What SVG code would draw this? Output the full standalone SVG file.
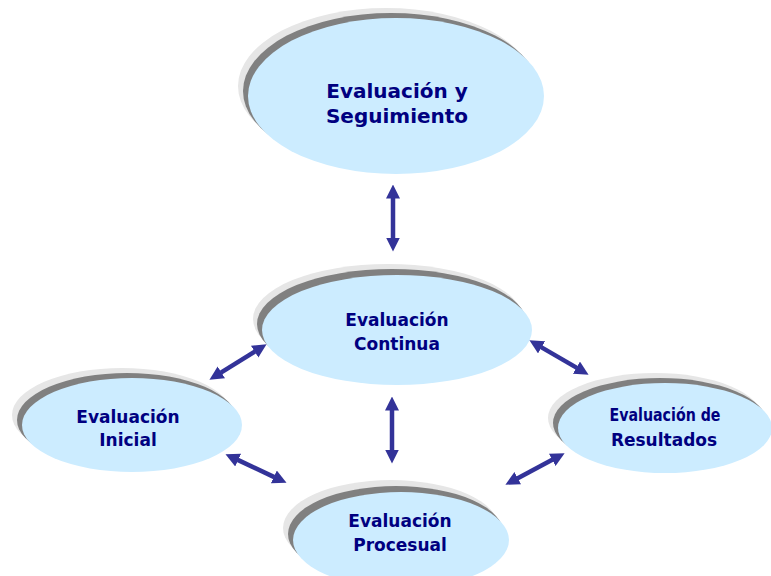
<svg xmlns="http://www.w3.org/2000/svg" width="771" height="576" viewBox="0 0 771 576">
<style>
.sh1{fill:#E6E6E6;}
.sh2{fill:#808080;}
.body{fill:#CCECFF;}
.lbl{font-family:"DejaVu Sans","Liberation Sans",sans-serif;font-weight:bold;fill:#000080;text-anchor:middle;}
.conn{stroke:#333399;stroke-width:4.5;fill:none;marker-start:url(#ah);marker-end:url(#ah);}
</style>
<defs>
<marker id="ah" markerUnits="userSpaceOnUse" viewBox="0 0 14 14" markerWidth="14" markerHeight="14" refX="0.5" refY="7" orient="auto-start-reverse">
<path d="M0,0 L14,7 L0,14 z" fill="#333399"/>
</marker>
</defs>
<rect width="771" height="576" fill="#FFFFFF"/>
<g id="node-seguimiento">
<ellipse class="sh1" cx="386" cy="86" rx="148" ry="78"/>
<ellipse class="sh2" cx="391" cy="91" rx="148" ry="78"/>
<ellipse class="body" cx="396" cy="96" rx="148" ry="78"/>
<text class="lbl" x="397" y="98" font-size="20">Evaluación y</text>
<text class="lbl" x="397" y="123" font-size="20">Seguimiento</text>
</g>
<g id="node-continua">
<ellipse class="sh1" cx="388" cy="319" rx="135" ry="55"/>
<ellipse class="sh2" cx="392" cy="324" rx="135" ry="55"/>
<ellipse class="body" cx="397" cy="330" rx="135" ry="55"/>
<text class="lbl" x="397" y="326" font-size="17">Evaluación</text>
<text class="lbl" x="397" y="350" font-size="17">Continua</text>
</g>
<g id="node-inicial">
<ellipse class="sh1" cx="122" cy="415" rx="110" ry="47"/>
<ellipse class="sh2" cx="127" cy="420" rx="110" ry="47"/>
<ellipse class="body" cx="132" cy="425" rx="110" ry="47"/>
<text class="lbl" x="128" y="423" font-size="17">Evaluación</text>
<text class="lbl" x="128" y="446" font-size="17">Inicial</text>
</g>
<g id="node-resultados">
<ellipse class="sh1" cx="655" cy="418" rx="107" ry="45"/>
<ellipse class="sh2" cx="660" cy="423" rx="107" ry="45"/>
<ellipse class="body" cx="665" cy="428" rx="107" ry="45"/>
<text class="lbl" x="665" y="421" font-size="17" textLength="111" lengthAdjust="spacingAndGlyphs">Evaluación de</text>
<text class="lbl" x="664" y="446" font-size="17">Resultados</text>
</g>
<g id="node-procesual">
<ellipse class="sh1" cx="391" cy="528" rx="108" ry="48"/>
<ellipse class="sh2" cx="396" cy="534" rx="108" ry="48"/>
<ellipse class="body" cx="401" cy="540" rx="108" ry="48"/>
<text class="lbl" x="400" y="527" font-size="17">Evaluación</text>
<text class="lbl" x="400" y="551" font-size="17">Procesual</text>
</g>
<g id="connectors">
<line class="conn" x1="393" y1="198" x2="393" y2="238"/>
<line class="conn" x1="392" y1="410" x2="392" y2="450"/>
<line class="conn" x1="220.9" y1="372.6" x2="255.1" y2="351.4"/>
<line class="conn" x1="237.7" y1="459.9" x2="274.3" y2="477.1"/>
<line class="conn" x1="541.1" y1="347.1" x2="576.9" y2="367.9"/>
<line class="conn" x1="517.3" y1="478.4" x2="552.7" y2="459.6"/>
</g>
</svg>
